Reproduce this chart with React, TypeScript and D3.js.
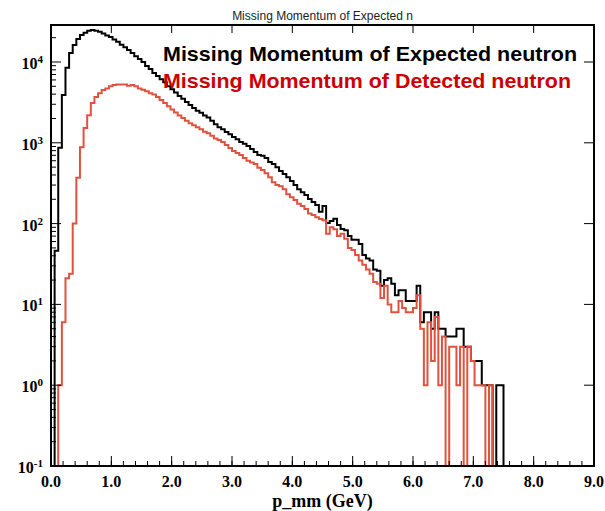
import React from "react";
import * as d3 from "d3";

const BIN_WIDTH = 0.06;

const expectedCounts = [
  0, 46, 870, 3900, 8500, 12900, 16200, 19300, 21600, 23000,
  24300, 24900, 24300, 23700, 22600, 21300, 20400, 19000, 17800, 16400,
  15200, 14100, 12900, 11800, 10900, 10000, 8900, 8200, 7300, 6700,
  6100, 5600, 5000, 4600, 4200, 3800, 3500, 3200, 2940, 2700,
  2500, 2350, 2170, 2050, 1880, 1700, 1560, 1470, 1360, 1280,
  1180, 1110, 1020, 970, 910, 840, 770, 706, 690, 650,
  580, 545, 500, 447, 410, 376, 336, 300, 267, 245,
  226, 202, 185, 170, 140, 165, 102, 108, 115, 96,
  86, 83, 70, 63, 63, 56, 41, 37, 35, 27,
  26, 17, 20, 21, 18, 13, 15, 15, 11, 11,
  11, 17, 6, 8, 8, 5, 8, 5, 5, 4,
  4, 4, 5, 5, 3, 3, 2, 2, 2, 1,
  1, 1, 0, 1, 1, 0, 0, 0, 0, 0,
  0, 0, 0, 0, 0, 0, 0, 0, 0, 0,
  0, 0, 0, 0, 0, 0, 0, 0, 0, 0,
];

const detectedCounts = [
  0, 0, 1, 6, 21, 24, 100, 370, 880, 1520,
  2200, 3100, 3700, 4100, 4500, 4700, 5000, 5200, 5250, 5250,
  5250, 5100, 5200, 5000, 4700, 4550, 4350, 4100, 3950, 3680,
  3390, 3100, 2830, 2580, 2380, 2170, 2030, 1880, 1750, 1650,
  1560, 1470, 1370, 1310, 1220, 1130, 1080, 1020, 940, 860,
  790, 750, 706, 650, 600, 570, 545, 490, 460, 420,
  376, 325, 300, 290, 267, 231, 212, 196, 176, 165,
  152, 133, 128, 120, 114, 110, 75, 90, 85, 70,
  75, 65, 50, 47, 41, 35, 31, 27, 24, 19,
  18, 12, 17, 10, 8, 8, 11, 9, 8, 8,
  9, 13, 5, 1, 6, 2, 7, 1, 4, 0,
  3, 3, 1, 3, 0, 3, 2, 1, 1, 1,
  0, 1, 0, 0, 0, 0, 0, 0, 0, 0,
  0, 0, 0, 0, 0, 0, 0, 0, 0, 0,
  0, 0, 0, 0, 0, 0, 0, 0, 0, 0,
];

const xTickValues = [0, 1, 2, 3, 4, 5, 6, 7, 8, 9];
const xTickLabels = ["0.0", "1.0", "2.0", "3.0", "4.0", "5.0", "6.0", "7.0", "8.0", "9.0"];
const yDecades = [-1, 0, 1, 2, 3, 4];

const TITLE = "Missing Momentum of Expected n";
const X_TITLE = "p_mm (GeV)";
const LEGEND = [
  { text: "Missing Momentum of Expected neutron", color: "#000000" },
  { text: "Missing Momentum of Detected neutron", color: "#cc0000" },
];
const LINE_COLORS = ["#000000", "#e0523f"];

const W = 605;
const H = 511;
const L = 51;
const R = 594;
const T = 25;
const B = 466;

export default function App() {
  const x = d3.scaleLinear().domain([0, 9]).range([L, R]);
  const y = d3.scaleLog().domain([0.1, Math.pow(10, 4.458)]).range([B, T]);

  const histPath = (counts: number[]) => {
    const pts: [number, number][] = [];
    pts.push([x(0), B]);
    counts.forEach((v, i) => {
      const yy = v > 0 ? y(v) : B;
      pts.push([x(i * BIN_WIDTH), yy]);
      pts.push([x((i + 1) * BIN_WIDTH), yy]);
    });
    pts.push([x(counts.length * BIN_WIDTH), B]);
    return d3.line()(pts) || "";
  };

  const minorX = d3.range(0, 9.0001, 0.2);
  const minorY: number[] = [];
  yDecades.forEach((d) => {
    for (let k = 2; k <= 9; k++) {
      const v = k * Math.pow(10, d);
      if (y(v) >= T) minorY.push(v);
    }
  });

  const serif = "'Liberation Serif', 'Times New Roman', serif";
  const sans = "'Liberation Sans', Arial, Helvetica, sans-serif";

  return (
    <div style={{ position: "absolute", left: 0, top: 0 }}>
      <svg width={W} height={H} style={{ display: "block", background: "#fff" }}>
        <defs>
          <clipPath id="plotclip">
            <rect x={L} y={T} width={R - L} height={B - T} />
          </clipPath>
        </defs>
        <text x={(L + R) / 2} y={20} textAnchor="middle" fontFamily={sans} fontSize={12} fill="#222">
          {TITLE}
        </text>

        <g clipPath="url(#plotclip)">
          <path d={histPath(expectedCounts)} fill="none" stroke={LINE_COLORS[0]} strokeWidth={2} />
          <path d={histPath(detectedCounts)} fill="none" stroke={LINE_COLORS[1]} strokeWidth={2} />
        </g>

        {/* x ticks */}
        {minorX.map((v, i) => (
          <line key={"mx" + i} x1={x(v)} x2={x(v)} y1={B} y2={B - 5} stroke="#000" strokeWidth={1} />
        ))}
        {xTickValues.map((v) => (
          <g key={"xt" + v}>
            <line x1={x(v)} x2={x(v)} y1={B} y2={B - 10} stroke="#000" strokeWidth={1} />
            <line x1={x(v)} x2={x(v)} y1={T} y2={T + 8} stroke="#000" strokeWidth={1} />
          </g>
        ))}
        {xTickValues.map((v, i) => (
          <text key={"xl" + v} x={x(v)} y={487} textAnchor="middle" fontFamily={serif} fontWeight="bold" fontSize={16}>
            {xTickLabels[i]}
          </text>
        ))}

        {/* y ticks */}
        {minorY.map((v, i) => (
          <line key={"my" + i} x1={L} x2={L + 5} y1={y(v)} y2={y(v)} stroke="#000" strokeWidth={1} />
        ))}
        {yDecades.map((d) => (
          <g key={"yt" + d}>
            <line x1={L} x2={L + 10} y1={y(Math.pow(10, d))} y2={y(Math.pow(10, d))} stroke="#000" strokeWidth={1} />
            <line x1={R} x2={R - 10} y1={y(Math.pow(10, d))} y2={y(Math.pow(10, d))} stroke="#000" strokeWidth={1} />
            <text x={43} y={y(Math.pow(10, d)) + 7} textAnchor="end" fontFamily={serif} fontWeight="bold" fontSize={16}>
              <tspan>10</tspan>
              <tspan dy={-6} fontSize={11}>{String(d)}</tspan>
            </text>
          </g>
        ))}

        <rect x={L} y={T} width={R - L} height={B - T} fill="none" stroke="#000" strokeWidth={2} />

        <text x={(L + R) / 2} y={507} textAnchor="middle" fontFamily={serif} fontWeight="bold" fontSize={18}>
          {X_TITLE}
        </text>

        {LEGEND.map((l, i) => (
          <text
            key={"lg" + i}
            x={163}
            y={61 + i * 26.5}
            fontFamily={sans}
            fontWeight="bold"
            fontSize={21}
            fill={l.color}
            textLength={i === 0 ? 414 : 408}
            lengthAdjust="spacingAndGlyphs"
          >
            {l.text}
          </text>
        ))}
      </svg>
    </div>
  );
}
